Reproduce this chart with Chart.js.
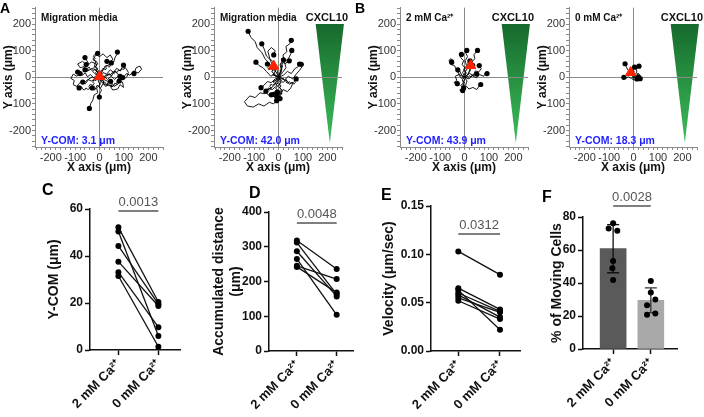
<!DOCTYPE html>
<html>
<head>
<meta charset="utf-8">
<script src="https://cdn.jsdelivr.net/npm/chart.js@4.4.0/dist/chart.umd.min.js"></script>
<style>
body { margin: 0; background: #fff; overflow: hidden; }
#wrap { position: relative; width: 704px; height: 417px; overflow: hidden; }
canvas { position: absolute; }
.lt { position: absolute; font: bold 16px "Liberation Sans", Arial, sans-serif; line-height: 16px; color: #000; }
</style>
</head>
<body>
<div id="wrap">
  <canvas id="a1" width="175" height="180" style="left:0;top:0"></canvas>
  <canvas id="a2" width="175" height="180" style="left:179px;top:0"></canvas>
  <canvas id="b1" width="175" height="180" style="left:365px;top:0"></canvas>
  <canvas id="b2" width="175" height="180" style="left:534px;top:0"></canvas>
  <canvas id="c" width="150" height="232" style="left:35px;top:185px"></canvas>
  <canvas id="d" width="155" height="232" style="left:205px;top:185px"></canvas>
  <canvas id="e" width="155" height="232" style="left:372px;top:185px"></canvas>
  <canvas id="f" width="145" height="232" style="left:540px;top:185px"></canvas>
  <div class="lt" style="left:0;top:0;font-size:14px">A</div>
  <div class="lt" style="left:355px;top:0;font-size:14px">B</div>
  <div class="lt" style="left:42px;top:182px">C</div>
  <div class="lt" style="left:249px;top:185px">D</div>
  <div class="lt" style="left:381px;top:187px">E</div>
  <div class="lt" style="left:542px;top:189px">F</div>
</div>
<script>
// ======================================
// DATA
// ======================================
const xTickVals = [-200, -100, 0, 100, 200];
const xTickText = ["-200", "-100", "0", "100", "200"];
const yTickVals = [200, 100, 0, -100, -200];
const yTickTextA = ["200", "100", "0", "-100", "-200"];
const yTickTextB = ["200", "100", "0", "100", "-200"];

const cornerText = ["Migration media", "Migration media", "2 mM Ca²⁺", "0 mM Ca²⁺"];
const comText = ["Y-COM: 3.1 μm", "Y-COM: 42.0 μm", "Y-COM: 43.9 μm", "Y-COM: 18.3 μm"];
const comPoint = [[0, 3], [-20, 42], [25, 44], [-12, 18]];

// CXCL10 gradient wedge corners (μm)
const wedgeX = [152, 268, 210];
const wedgeY = [200, 200, -247];

// cell tracks, each starts at the origin (μm)
const tracksA1 = [
  [[0,0],[8,10],[2,22],[15,28],[22,42],[38,46],[44,60],[58,58],[64,76],[70,84],[73,95]],
  [[0,0],[-6,-14],[2,-28],[-12,-40],[-8,-58],[-22,-66],[-28,-86],[-36,-98],[-42,-117]],
  [[0,0],[-14,6],[-24,-2],[-38,10],[-50,2],[-58,16],[-72,8],[-82,22],[-90,20]],
  [[0,0],[18,4],[32,-8],[48,4],[62,-8],[78,6],[98,0],[110,14],[124,8],[140,24],[158,16],[172,30],[166,42],[150,36],[141,14]],
  [[0,0],[-8,18],[-24,32],[-18,52],[-34,58],[-44,48],[-54,66],[-60,74]],
  [[0,0],[6,-18],[-4,-34],[8,-48],[0,-62],[-1,-74]],
  [[0,0],[-18,-6],[-34,-14],[-48,-8],[-62,-20],[-69,-18]],
  [[0,0],[14,18],[28,12],[44,28],[58,18],[70,34],[84,24],[94,40],[108,34],[118,18],[112,2],[98,-8],[94,-1]],
  [[0,0],[-14,-10],[-28,2],[-44,-6],[-58,-24],[-78,-18],[-94,-34],[-108,-28],[-104,-12],[-118,-4],[-108,12],[-94,4],[-80,14]],
  [[0,0],[10,-18],[24,-34],[40,-28],[54,-48],[74,-44],[84,-28],[98,-38],[94,-18],[80,-14]],
  [[0,0],[-4,24],[-18,38],[-8,54],[-28,68],[-14,84],[0,78],[14,88],[30,74],[44,84],[54,68],[40,54],[30,60]],
  [[0,0],[20,-4],[34,12],[50,6],[60,24],[74,14],[84,-4],[78,-24],[60,-34],[45,-15]],
  [[0,0],[-20,14],[-36,30],[-52,24],[-64,40],[-80,36],[-90,50],[-70,60],[-55,48]],
  [[0,0],[12,6],[20,-10],[36,-16],[30,-30],[14,-24],[4,-40],[-10,-30],[-20,-48],[-30,-40]],
  [[0,0],[6,4],[2,10],[10,14],[6,20],[14,24],[10,30],[18,34],[22,28],[28,32],[24,40],[32,44],[38,38],[44,42],[40,50],[48,54]],
  [[0,0],[-6,4],[-4,12],[-12,10],[-16,18],[-10,24],[-18,30],[-26,26],[-30,34],[-38,30],[-42,38],[-50,34],[-46,26],[-54,22],[-60,28]],
  [[0,0],[4,-6],[12,-4],[10,-12],[18,-14],[16,-22],[24,-20],[28,-28],[36,-24],[40,-32],[48,-28],[50,-36],[58,-32],[62,-22],[70,-26],[72,-16],[80,-10],[76,-2],[84,4]],
  [[0,0],[-4,-6],[-12,-4],[-16,-12],[-24,-10],[-28,-18],[-22,-24],[-30,-30],[-38,-26],[-44,-34],[-40,-42],[-48,-46],[-56,-40],[-62,-48],[-70,-44],[-74,-36],[-84,-40]],
  [[0,0],[8,-2],[12,6],[20,2],[26,10],[34,6],[38,14],[46,10],[52,18],[60,14],[64,22],[72,18],[78,28],[86,24],[90,32],[100,30],[104,38],[98,46]],
  [[0,0],[-2,8],[-10,12],[-6,20],[-14,26],[-8,34],[-16,40],[-10,48],[-20,52],[-14,60],[-24,64],[-18,72],[-26,78],[-20,86],[-8,90]]
];
const tracksA2 = [
  [[0,0],[-10,20],[-24,30],[-38,52],[-56,70],[-68,92],[-88,112],[-96,134],[-114,150],[-125,173]],
  [[0,0],[12,24],[6,48],[22,62],[18,84],[34,96],[30,116],[46,126],[52,139]],
  [[0,0],[-18,12],[-32,4],[-50,22],[-64,36],[-80,44],[-93,57]],
  [[0,0],[20,8],[36,22],[52,14],[66,32],[80,40],[93,49]],
  [[0,0],[-6,26],[-24,44],[-36,68],[-50,80],[-58,104],[-69,126]],
  [[0,0],[-14,-6],[-30,-20],[-46,-16],[-60,-30],[-72,-39]],
  [[0,0],[10,-18],[0,-34],[14,-50],[4,-66],[6,-80]],
  [[0,0],[-10,-20],[-24,-36],[-40,-44],[-58,-62],[-76,-58],[-96,-76],[-118,-70],[-140,-92],[-128,-108],[-104,-112],[-82,-100],[-60,-108],[-38,-94],[-20,-100],[-8,-88]],
  [[0,0],[16,18],[30,36],[24,58],[40,70],[50,88],[54,101]],
  [[0,0],[6,20],[14,36],[8,52],[20,66]],
  [[0,0],[24,-10],[40,4],[58,-6],[72,12],[86,26],[96,40],[86,50]],
  [[0,0],[-20,8],[-12,28],[-30,36],[-20,56],[-36,70],[-44,98],[-30,112],[-14,100],[-20,84]],
  [[0,0],[18,-20],[30,-8],[44,-26],[60,-18],[50,-40],[36,-54],[18,-46],[10,-64],[-4,-56]],
  [[0,0],[-16,-14],[-8,-32],[-26,-46],[-42,-40],[-50,-60],[-34,-72],[-20,-64]],
  [[0,0],[6,-6],[0,-12],[8,-18],[2,-26],[10,-32],[4,-40],[12,-46],[6,-54],[14,-60],[8,-68],[-2,-64],[-8,-72]],
  [[0,0],[-6,-4],[-10,-12],[-18,-10],[-22,-18],[-16,-24],[-24,-30],[-32,-26],[-36,-34],[-30,-42],[-38,-48],[-46,-44],[-52,-52]],
  [[0,0],[6,6],[2,14],[10,18],[6,26],[14,30],[10,38],[18,42],[14,50],[22,56],[28,50],[34,58],[40,54],[44,62]],
  [[0,0],[-6,6],[-12,2],[-16,10],[-24,8],[-20,16],[-28,20],[-24,28],[-32,32],[-40,28],[-44,36],[-38,44],[-46,50]],
  [[0,0],[8,2],[12,-6],[20,-4],[24,-12],[32,-10],[30,-18],[38,-22],[44,-16],[50,-24],[56,-18],[62,-26],[68,-20],[64,-10],[72,-6]],
  [[0,0],[2,-8],[-6,-14],[-2,-22],[-10,-26],[-4,-34],[-12,-40],[-6,-48],[-16,-52],[-10,-60],[-20,-64],[-26,-58],[-30,-66]]
];
const tracksB1 = [
  [[0,0],[6,16],[-4,30],[8,44],[2,62],[12,78],[4,92],[9,101]],
  [[0,0],[14,12],[22,30],[34,40],[30,58],[42,70],[38,86],[48,94],[53,101]],
  [[0,0],[-12,8],[-20,24],[-34,30],[-42,44],[-56,48],[-64,62],[-58,70],[-46,64],[-53,57]],
  [[0,0],[-8,18],[2,34],[-10,48],[-4,62],[-16,74],[-13,86]],
  [[0,0],[18,-6],[32,6],[48,-2],[62,10],[78,4],[88,18],[92,14]],
  [[0,0],[10,-14],[4,-30],[18,-44],[34,-38],[50,-46],[60,-32],[66,-27]],
  [[0,0],[12,10],[24,26],[18,38],[28,42],[33,45]],
  [[0,0],[-10,-10],[-4,-22],[-16,-30],[-6,-40],[-20,-48],[-8,-50]],
  [[0,0],[20,14],[36,8],[44,24],[58,20],[68,32],[60,44]],
  [[0,0],[-14,-4],[-24,10],[-38,4],[-32,-12],[-44,-20],[-30,-24]],
  [[0,0],[4,6],[-2,12],[6,16],[2,24],[10,28],[6,34],[14,38],[10,46],[18,50],[14,58],[22,62]],
  [[0,0],[-4,-4],[2,-10],[-6,-14],[0,-20],[-8,-24],[-2,-30],[-10,-34],[-4,-40]],
  [[0,0],[6,-2],[10,4],[16,0],[20,6],[26,2],[30,8],[36,4],[40,10],[46,6],[50,12]],
  [[0,0],[-4,4],[-10,2],[-12,8],[-18,6],[-20,12],[-26,10],[-24,18],[-30,20],[-28,28]]
];
const tracksB2 = [
  [[0,0],[-8,8],[-14,20],[-24,28],[-30,40],[-35,51]],
  [[0,0],[8,-4],[16,2],[22,-6],[27,-5]],
  [[0,0],[-10,-4],[-22,2],[-32,-4],[-40,0]],
  [[0,0],[6,10],[14,20],[10,30],[18,36],[22,42]],
  [[0,0],[-6,12],[2,22],[-4,32],[4,38]],
  [[0,0],[12,6],[18,16],[24,10],[20,2]],
  [[0,0],[-4,-8],[6,-10],[14,-6]]
];

// paired panels
const groupLabels = ["2 mM Ca²⁺", "0 mM Ca²⁺"];
const cTwo  = [52.2, 50.4, 44.3, 37.6, 33.1, 31.5];
const cZero = [20.4, 6.0, 19.5, 18.7, 9.7, 1.4];
const dTwo  = [318, 312, 287, 265, 245, 242];
const dZero = [236, 163, 157, 104, 207, 168];
const eTwo  = [0.103, 0.065, 0.063, 0.060, 0.058, 0.055, 0.052];
const eZero = [0.079, 0.043, 0.022, 0.041, 0.035, 0.040, 0.033];

// bar panel
const fMean = [60.8, 29.5];
const fSd   = [14.6, 7.5];
const fTwo  = [76.2, 73.1, 71.7, 53.3, 48.9, 41.8];
const fTwoDx  = [0, -0.12, 0.11, 0, -0.02, 0];
const fZero = [41.2, 34.3, 30.0, 26.5, 21.5, 20.8];
const fZeroDx = [0, 0, 0.12, -0.1, 0.12, -0.1];

// significance
const pText  = ["0.0013", "0.0048", "0.0312", "0.0028"];
const pLevel = [59.2, 368, 0.121, 86.7];

// ======================================
// COMMON
// ======================================
const FONT = '"Liberation Sans", Arial, sans-serif';
Chart.defaults.font.family = FONT;
const gridTicks = [];
for (let v = -260; v <= 260; v += 20) gridTicks.push(v);
const pick = (vals, text, v) => { const i = vals.indexOf(v); return i >= 0 ? text[i] : ""; };

const trackDeco = {
  id: "trackDeco",
  beforeDraw(chart, args, o) {
    if (!o.wedge) return;
    const { x, y } = chart.scales;
    const ctx = chart.ctx;
    const px = wedgeX.map(v => x.getPixelForValue(v));
    const py = wedgeY.map(v => y.getPixelForValue(v));
    const g = ctx.createLinearGradient(0, py[0], 0, py[2]);
    g.addColorStop(0, "#166a2c");
    g.addColorStop(1, "#3dbd5b");
    ctx.save();
    ctx.beginPath();
    ctx.moveTo(px[0], py[0]);
    ctx.lineTo(px[1], py[1]);
    ctx.lineTo(px[2], py[2]);
    ctx.closePath();
    ctx.fillStyle = g;
    ctx.fill();
    ctx.restore();
  },
  afterDraw(chart, args, o) {
    const a = chart.chartArea, ctx = chart.ctx;
    ctx.save();
    ctx.textBaseline = "alphabetic";
    ctx.textAlign = "left";
    ctx.fillStyle = "#111";
    ctx.font = "bold 10px " + FONT;
    ctx.fillText(o.corner, a.left + 6, a.top + 13);
    ctx.fillStyle = "#1f1fff";
    ctx.font = "bold 10.5px " + FONT;
    ctx.fillText(o.com, a.left + 6, a.bottom - 3);
    if (o.wedge) {
      ctx.textAlign = "right";
      ctx.fillStyle = "#111";
      ctx.font = "bold 11px " + FONT;
      ctx.fillText("CXCL10", a.right + 6, a.top + 13);
    }
    ctx.restore();
  }
};

function trackChart(id, tracks, k, yText, wedge) {
  const datasets = [{
    data: [{ x: comPoint[k][0], y: comPoint[k][1] }],
    pointStyle: "triangle", pointRadius: 6,
    backgroundColor: "#ff2200", borderColor: "#ff2200", order: -1
  }];
  tracks.forEach(t => datasets.push({
    data: t.map(p => ({ x: p[0], y: p[1] })),
    showLine: true, borderColor: "#000", borderWidth: 0.9,
    pointRadius: c => c.dataIndex === t.length - 1 ? 2.6 : 0,
    pointBackgroundColor: "#000", pointBorderWidth: 0
  }));
  const axisGrid = {
    color: c => c.tick && c.tick.value === 0 ? "#8a8a8a" : "rgba(0,0,0,0)",
    tickColor: "#8a8a8a", tickLength: 3
  };
  new Chart(document.getElementById(id), {
    type: "scatter",
    data: { datasets },
    options: {
      responsive: false, animation: false, devicePixelRatio: 1,
      layout: { padding: { top: 7, right: 12, left: 0, bottom: 0 } },
      plugins: {
        legend: { display: false }, tooltip: { enabled: false },
        trackDeco: { corner: cornerText[k], com: comText[k], wedge }
      },
      scales: {
        x: {
          type: "linear", min: -265, max: 260,
          afterBuildTicks: s => { s.ticks = gridTicks.map(v => ({ value: v })); },
          afterFit: s => { s.height = 33; },
          ticks: { autoSkip: false, maxRotation: 0, padding: 1, color: "#333", font: { size: 11 },
                   callback: v => pick(xTickVals, xTickText, v) },
          grid: axisGrid,
          border: { color: "#8a8a8a" },
          title: { display: true, text: "X axis (μm)", color: "#111",
                   font: { size: 12, weight: "bold" }, padding: { top: 0, bottom: 5 } }
        },
        y: {
          type: "linear", min: -262, max: 262,
          afterBuildTicks: s => { s.ticks = gridTicks.map(v => ({ value: v })); },
          afterFit: s => { s.width = 35; },
          ticks: { autoSkip: false, padding: 1, color: "#333", font: { size: 11 },
                   callback: v => pick(yTickVals, yText, v) },
          grid: axisGrid,
          border: { color: "#8a8a8a" },
          title: { display: true, text: "Y axis (μm)", color: "#111",
                   font: { size: 12, weight: "bold" }, padding: { top: 1, bottom: 0 } }
        }
      }
    },
    plugins: [trackDeco]
  });
}

trackChart("a1", tracksA1, 0, yTickTextA, false);
trackChart("a2", tracksA2, 1, yTickTextA, true);
trackChart("b1", tracksB1, 2, yTickTextB, true);
trackChart("b2", tracksB2, 3, yTickTextB, true);

// ======================================
// BOTTOM ROW
// ======================================
const sigText = {
  id: "sigText",
  afterDraw(chart, args, o) {
    const { x, y } = chart.scales, ctx = chart.ctx;
    const cx = (x.getPixelForValue(0) + x.getPixelForValue(1)) / 2;
    const cy = y.getPixelForValue(o.level);
    ctx.save();
    ctx.font = "13px " + FONT;
    ctx.fillStyle = "#555";
    ctx.textAlign = "center";
    ctx.textBaseline = "bottom";
    ctx.fillText(o.text, cx, cy - 2);
    ctx.restore();
  }
};

function bottomScales(cfg) {
  const g = { drawOnChartArea: false, tickColor: "#111", tickLength: 5, tickWidth: 1.5, offset: false };
  return {
    x: {
      type: "linear", min: cfg.xMin, max: cfg.xMax, offset: false,
      afterBuildTicks: s => { s.ticks = [{ value: 0 }, { value: 1 }]; },
      afterFit: s => { s.height = cfg.xh; },
      ticks: { autoSkip: false, maxRotation: 45, minRotation: 45, padding: 2, color: "#111",
               font: { size: 13, weight: "bold" }, callback: v => groupLabels[v] },
      grid: g, border: { color: "#111", width: 1.5 }
    },
    y: {
      type: "linear", min: 0, max: cfg.yMax,
      afterBuildTicks: s => { s.ticks = cfg.yTicks.map(v => ({ value: v })); },
      afterFit: s => { s.width = cfg.yw; },
      ticks: { autoSkip: false, padding: 2, color: "#111", font: { size: 12, weight: "bold" },
               callback: v => pick(cfg.yTicks, cfg.yText, v) },
      grid: g, border: { color: "#111", width: 1.5 },
      title: { display: true, text: cfg.title, color: "#111",
               font: { size: 14, weight: "bold" }, padding: { top: cfg.tp, bottom: 0 } }
    }
  };
}

function sigLine(k) {
  return { type: "line", data: [{ x: 0, y: pLevel[k] }, { x: 1, y: pLevel[k] }],
           borderColor: "#555", borderWidth: 1.5, pointRadius: 0, clip: false };
}

function pairedChart(id, two, zero, k, cfg) {
  const datasets = two.map((v, i) => ({
    data: [{ x: 0, y: v }, { x: 1, y: zero[i] }],
    showLine: true, borderColor: "#111", borderWidth: 1.3,
    pointRadius: 3, pointBackgroundColor: "#000", pointBorderWidth: 0, clip: false
  }));
  datasets.push(sigLine(k));
  new Chart(document.getElementById(id), {
    type: "scatter",
    data: { datasets },
    options: {
      responsive: false, animation: false, devicePixelRatio: 1,
      layout: { padding: { top: cfg.top, right: cfg.right, left: 0, bottom: 0 } },
      plugins: { legend: { display: false }, tooltip: { enabled: false },
                 sigText: { text: pText[k], level: pLevel[k] } },
      scales: bottomScales(cfg)
    },
    plugins: [sigText]
  });
}

pairedChart("c", cTwo, cZero, 0, {
  top: 24, right: 5, xh: 67, yw: 55, tp: 11, xMin: -0.71, xMax: 1.54,
  yMax: 60, yTicks: [0, 20, 40, 60], yText: ["0", "20", "40", "60"], title: "Y-COM (μm)"
});
pairedChart("d", dTwo, dZero, 1, {
  top: 27, right: 7, xh: 66, yw: 64, tp: 6, xMin: -0.7, xMax: 1.41,
  yMax: 400, yTicks: [0, 100, 200, 300, 400], yText: ["0", "100", "200", "300", "400"],
  title: ["Accumulated distance", "(μm)"]
});
pairedChart("e", eTwo, eZero, 2, {
  top: 21, right: 7, xh: 66, yw: 59, tp: 9, xMin: -0.655, xMax: 1.48,
  yMax: 0.15, yTicks: [0, 0.05, 0.1, 0.15], yText: ["0.00", "0.05", "0.10", "0.15"],
  title: "Velocity (μm/sec)"
});

// bar panel F
const errBars = {
  id: "errBars",
  afterDatasetDraw(chart, args) {
    if (args.index !== 1) return;
    const { x, y } = chart.scales, ctx = chart.ctx;
    ctx.save();
    ctx.lineWidth = 1.3;
    fMean.forEach((m, i) => {
      const cx = x.getPixelForValue(i);
      const top = y.getPixelForValue(m + fSd[i]), bot = y.getPixelForValue(m - fSd[i]);
      ctx.strokeStyle = i === 0 ? "#111" : "#333";
      ctx.beginPath();
      ctx.moveTo(cx, top); ctx.lineTo(cx, bot);
      ctx.moveTo(cx - 6, top); ctx.lineTo(cx + 6, top);
      ctx.moveTo(cx - 6, bot); ctx.lineTo(cx + 6, bot);
      ctx.stroke();
    });
    ctx.restore();
  }
};

const fCfg = {
  xh: 68, yw: 43, tp: 9, xMin: -0.8, xMax: 1.695,
  yMax: 80, yTicks: [0, 20, 40, 60, 80], yText: ["0", "20", "40", "60", "80"],
  title: "% of Moving Cells"
};
new Chart(document.getElementById("f"), {
  type: "bar",
  data: {
    datasets: [
      {
        type: "scatter",
        data: fTwo.map((v, i) => ({ x: fTwoDx[i], y: v }))
          .concat(fZero.map((v, i) => ({ x: 1 + fZeroDx[i], y: v }))),
        pointRadius: 3, backgroundColor: "#000", borderWidth: 0
      },
      {
        type: "bar",
        data: fMean.map((v, i) => ({ x: i, y: v })),
        backgroundColor: ["#5a5a5a", "#a9a9a9"], barThickness: 26, borderWidth: 0
      },
      sigLine(3)
    ]
  },
  options: {
    responsive: false, animation: false, devicePixelRatio: 1,
    layout: { padding: { top: 32, right: 8, left: 0, bottom: 0 } },
    plugins: { legend: { display: false }, tooltip: { enabled: false },
               sigText: { text: pText[3], level: pLevel[3] } },
    scales: bottomScales(fCfg)
  },
  plugins: [sigText, errBars]
});
</script>
</body>
</html>
